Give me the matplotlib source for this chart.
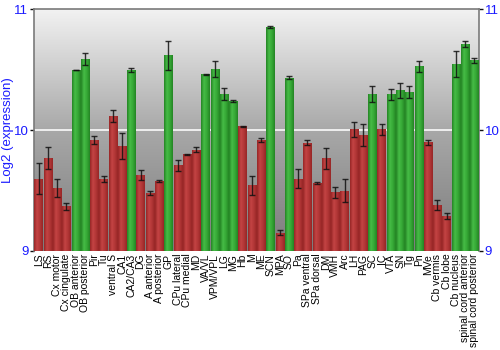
import numpy as np
import matplotlib
matplotlib.use("Agg")
import matplotlib.pyplot as plt
from matplotlib.colors import LinearSegmentedColormap

plt.rcParams['font.family'] = ['Liberation Sans', 'DejaVu Sans']

regions = ['LS', 'RS', 'Cx motor', 'Cx cingulate', 'OB anterior', 'OB posterior',
           'Pir', 'Tu', 'ventral S', 'CA1', 'CA2/CA3', 'DG', 'A anterior',
           'A posterior', 'GP', 'CPu lateral', 'CPu medial', 'MD', 'VA/VL',
           'VPM/VPL', 'LG', 'MG', 'Hb', 'M', 'ME', 'SCN', 'MPA', 'SO', 'Pa',
           'SPa ventral', 'SPa dorsal', 'DM', 'VMH', 'Arc', 'LH', 'PAG', 'SC',
           'IC', 'VTA', 'SN', 'Tg', 'Pn', 'MVe', 'Cb vermis', 'Cb lobe',
           'Cb nucleus', 'spinal cord anterior', 'spinal cord posterior']

expr = [9.60, 9.77, 9.52, 9.37, 10.50, 10.59,
        9.92, 9.595, 10.115, 9.87, 10.50, 9.63, 9.48,
        9.58, 10.62, 9.71, 9.80, 9.84, 10.465,
        10.51, 10.30, 10.24, 10.033, 9.544, 9.917, 10.854, 9.152, 10.436, 9.60,
        9.898, 9.56, 9.768, 9.486, 9.497, 10.006, 9.959, 10.298,
        10.006, 10.296, 10.33, 10.315, 10.53, 9.90, 9.378, 9.29,
        10.547, 10.715, 10.58]

err = [0.13, 0.094, 0.077, 0.028, 0.002, 0.048,
       0.036, 0.025, 0.05, 0.105, 0.014, 0.042, 0.018,
       0.005, 0.12, 0.044, 0.002, 0.017, 0.004,
       0.066, 0.047, 0.008, 0.004, 0.077, 0.017, 0.006, 0.018, 0.015, 0.076,
       0.022, 0.008, 0.086, 0.046, 0.095, 0.061, 0.091, 0.066,
       0.044, 0.043, 0.061, 0.05, 0.046, 0.022, 0.043, 0.025,
       0.105, 0.022, 0.022]

# green = above-baseline regions, red = below
high = [v > 10.2 for v in expr]

fig = plt.figure(figsize=(5, 3.5), dpi=100)
ax = fig.add_axes([0.068, 0.283, 0.89, 0.69])

ymin, ymax = 9, 11
x = np.arange(len(regions))

# grey vertical gradient behind the bars
bg = LinearSegmentedColormap.from_list('bg', ['#7c7c7c', '#a8a8a8', '#f2f2f2'])
grad = np.linspace(0, 1, 256).reshape(-1, 1)
ax.imshow(grad, cmap=bg, origin='lower', aspect='auto',
          extent=(-0.5, len(regions) - 0.5, ymin, ymax), zorder=0)
ax.axhline(10, color='#f4f4f4', lw=1.3, zorder=1)

red_map = LinearSegmentedColormap.from_list('r', ['#962626', '#c44444', '#b23636', '#962626'])
green_map = LinearSegmentedColormap.from_list('g', ['#248424', '#46bc46', '#36a836', '#248424'])
hgrad = np.linspace(0, 1, 64).reshape(1, -1)

bars = ax.bar(x, np.array(expr) - ymin, bottom=ymin, width=0.9,
              color=['#3aa83a' if h else '#b53a3a' for h in high], zorder=2)
for b, h in zip(bars, high):
    im = ax.imshow(hgrad, cmap=green_map if h else red_map, aspect='auto',
                   extent=(b.get_x(), b.get_x() + b.get_width(), ymin, b.get_y() + b.get_height()),
                   zorder=3)
    im.set_clip_path(b)

ax.errorbar(x, expr, yerr=err, fmt='none', ecolor='#111111', elinewidth=1,
            capsize=2, capthick=1, alpha=0.85, zorder=4)
ax.set_xlim(-0.5, len(regions) - 0.5)
ax.set_ylim(ymin, ymax)

ax.set_xticks(x)
ax.set_xticklabels(regions, rotation=90, fontsize=7.5, va='top')
ax.tick_params(axis='x', length=0, pad=2)

ax.set_yticks([9, 10, 11])
ax.tick_params(axis='y', colors='#111111', labelcolor='#1a1aff', labelsize=9.5,
               length=3, width=1, pad=1, right=True, labelright=True)
ax.set_ylabel('Log2 (expression)', color='#1a1aff', fontsize=9.5, labelpad=0)

for side in ['left', 'right', 'top']:
    ax.spines[side].set_color('#7a7a7a')
    ax.spines[side].set_linewidth(1.2)
ax.spines['bottom'].set_visible(False)

fig.savefig('out.png', dpi=100)
